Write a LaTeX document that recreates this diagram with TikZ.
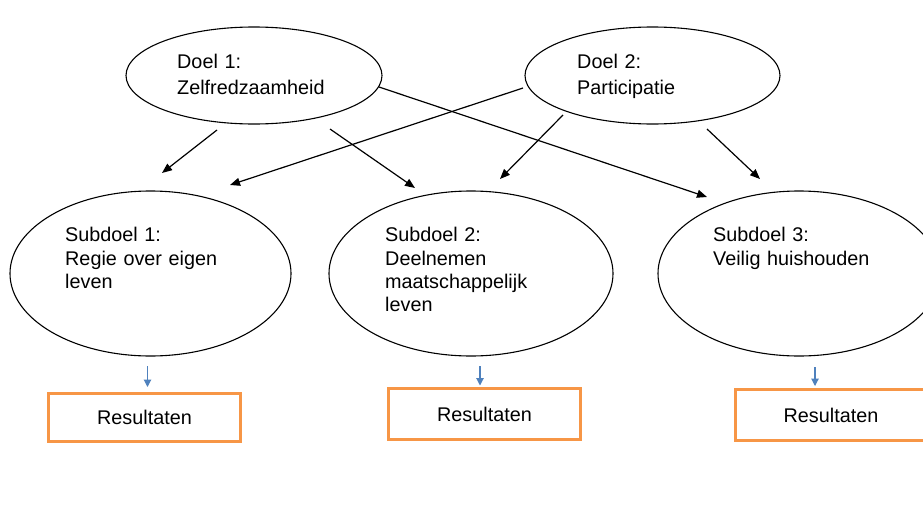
\documentclass[tikz,border=0pt]{standalone}
\usepackage{fontspec}
\setmainfont{Liberation Sans}
\usetikzlibrary{shapes.geometric,arrows.meta,calc}
\definecolor{boxorange}{HTML}{F79646}
\definecolor{arrowblue}{HTML}{4F81BD}
\begin{document}
\begin{tikzpicture}[x=1pt,y=-1pt,
  goal/.style={draw=black,ellipse,line width=1.1pt,inner sep=0pt,fill=white},
  goaltext/.style={anchor=base west,align=left,inner sep=0pt,text width=220pt,
    font=\fontsize{19.8}{26}\selectfont},
  subtext/.style={anchor=base west,align=left,inner sep=0pt,text width=220pt,
    font=\fontsize{19.8}{23.3}\selectfont},
  resbox/.style={draw=boxorange,line width=3pt,minimum width=192pt,inner sep=0pt,
    font=\fontsize{19.8}{23}\selectfont},
  conn/.style={draw=black,line width=1.2pt,-{Triangle[length=10pt,width=8pt]}},
  bluearr/.style={draw=arrowblue,line width=1.1pt,-{Triangle[length=7.5pt,width=7.5pt]}}]
\useasboundingbox (0,0) rectangle (923,506);
\clip (0,0) rectangle (923,506);
\fill[white] (0,0) rectangle (923,506);

% top-level goals
\node[goal,minimum width=256pt,minimum height=97pt] (d1) at (254,75.5) {};
\node[goal,minimum width=255pt,minimum height=97pt] (d2) at (652.5,75.5) {};
\node[goaltext] (t1) at (177,68) {Doel 1:\\Zelfredzaamheid};
\node[goaltext] (t2) at (577,68) {Doel 2:\\Participatie};

% sub goals
\node[goal,minimum width=281pt,minimum height=165pt] (s1) at (150.5,273.5) {};
\node[goal,minimum width=284pt,minimum height=165pt] (s2) at (471,273.5) {};
\node[goal,minimum width=282pt,minimum height=165pt] (s3) at (799,273.5) {};
\node[subtext] (u1) at (65,241.7) {Subdoel 1:\\Regie over eigen\\leven};
\node[subtext] (u2) at (385,241.7) {Subdoel 2:\\Deelnemen\\maatschappelijk\\leven};
\node[subtext] (u3) at (713,241.7) {Subdoel 3:\\Veilig huishouden};

% result boxes
\node[resbox,minimum height=48pt] (r1) at (144.5,417.5) {Resultaten};
\node[resbox,minimum height=51pt] (r2) at (484.5,414) {Resultaten};
\node[resbox,minimum height=51pt,minimum width=191pt] (r3) at (831,415) {Resultaten};

% connectors
\draw[conn] ($(d1)+(-37,54.5)$) -- ($(s1)+(11.5,-100.5)$);
\draw[conn] ($(d1)+(76,53.5)$) -- ($(s2)+(-56,-85.5)$);
\draw[conn] ($(d1)+(125,11.5)$) -- ($(s3)+(-92,-76.5)$);
\draw[conn] ($(d2)+(-129.5,12.5)$) -- ($(s1)+(79.5,-88.5)$);
\draw[conn] ($(d2)+(-89.5,39.5)$) -- ($(s2)+(29,-94.5)$);
\draw[conn] ($(d2)+(54.5,53.5)$) -- ($(s3)+(-39,-94.5)$);

% small blue arrows into result boxes
\draw[bluearr] ($(r1.north)+(3,-26)$) -- ($(r1.north)+(3,-5)$);
\draw[bluearr] ($(r2.north)+(-4.5,-21)$) -- ($(r2.north)+(-4.5,-1.5)$);
\draw[bluearr] ($(r3.north)+(-16,-21)$) -- ($(r3.north)+(-16,-2)$);
\end{tikzpicture}
\end{document}
